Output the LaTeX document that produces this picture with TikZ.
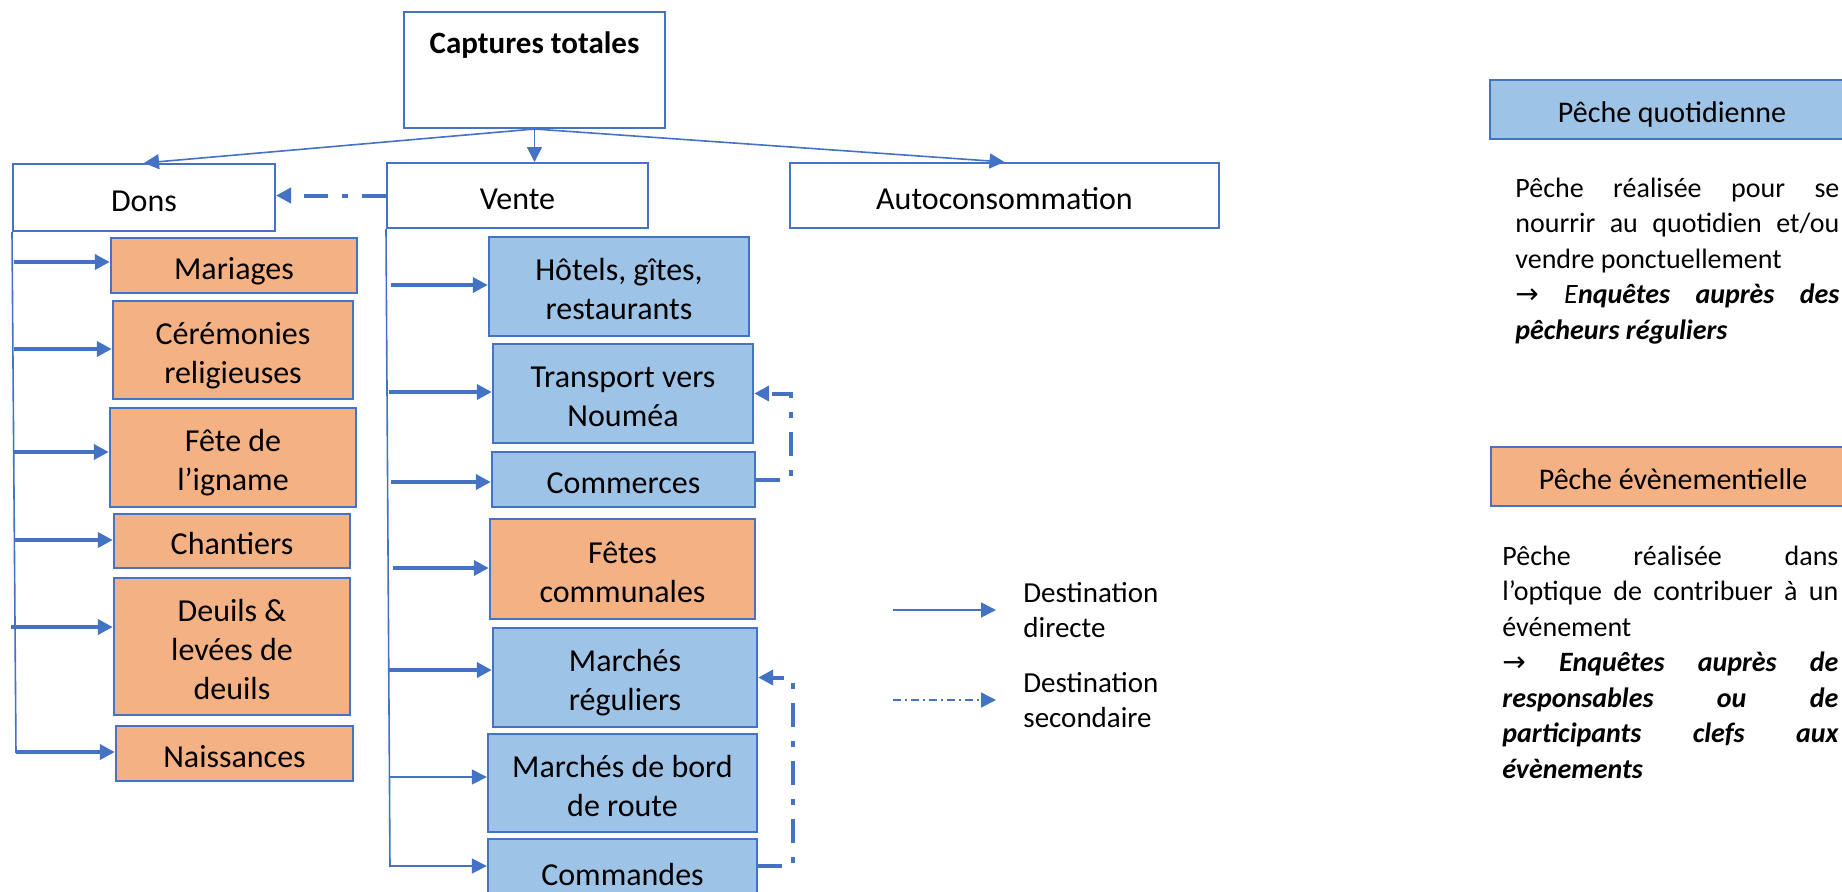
\documentclass[tikz,border=0pt]{standalone}
\usepackage{fontspec}
\setmainfont{Carlito}
\newfontfamily\symfont{DejaVu Sans}
\usetikzlibrary{arrows.meta,calc}
\definecolor{bl}{HTML}{4472C4}
\definecolor{lb}{HTML}{9DC3E6}
\definecolor{orf}{HTML}{F4B183}
\newcommand\topstr{\rule{0pt}{16.5pt}}
\newcommand\botstr{\rule[-3pt]{0pt}{3pt}}
\begin{document}
\begin{tikzpicture}[x=0.5pt,y=-0.5pt,
  boxstrut/.style 2 args={execute at begin node={\rule{0pt}{#1}}, execute at end node={\rule[-#2]{0pt}{#2}}},
  wbox/.style={draw=bl, line width=1pt, fill=white, inner sep=0pt, align=center, font=\fontsize{16}{19.5}\selectfont, boxstrut={16.5pt}{3pt}},
  obox/.style={wbox, fill=orf, line width=1.2pt},
  bbox/.style={wbox, fill=lb, line width=1.2pt},
  multi/.style={boxstrut={0pt}{0pt}},
  tbox/.style={draw=bl, line width=1pt, inner sep=0pt, font=\fontsize{15}{18}\selectfont, minimum width=182pt, minimum height=29.5pt, boxstrut={15pt}{2.5pt}},
  thin/.style={draw=bl, line width=0.8pt},
  thinarrow/.style={thin, -{Triangle[length=7.5pt,width=7.5pt]}},
  thickarrow/.style={draw=bl, line width=2pt, -{Triangle[length=7.5pt,width=7.5pt]}},
  secarrow/.style={draw=bl, line width=2pt, dash pattern=on 12pt off 7pt on 3pt off 7pt, -{Triangle[length=7.5pt,width=7.5pt]}},
  legsec/.style={draw=bl, line width=0.8pt, dash pattern=on 4pt off 2pt on 1pt off 2pt, -{Triangle[length=7.5pt,width=7.5pt]}},
  para/.style={inner sep=0pt, align=justify, font=\fontsize{14}{17.75}\selectfont},
  legtxt/.style={inner sep=0pt, align=left, text width=90pt, font=\fontsize{14.5}{17.5}\selectfont}
]
\clip (0,0) rectangle (1842,891);
\fill[white] (0,0) rectangle (1842,891);

% top level
\node[wbox, minimum width=130.5pt, minimum height=58pt, boxstrut={0pt}{0pt}] (cap) at (534.5,70) {};
\node[inner sep=0pt, font=\fontsize{15.5}{19}\selectfont\bfseries] (captxt) at (534.5,45) {Captures totales};
\node[wbox, minimum width=131pt, minimum height=33.5pt] (dons) at (144,197.5) {Dons};
\node[wbox, minimum width=130.5pt, minimum height=32.5pt] (vente) at (517.5,195.5) {Vente};
\node[wbox, minimum width=214.5pt, minimum height=32.5pt] (auto) at (1004.5,195.5) {Autoconsommation};

\draw[thinarrow] (cap.south) -- (dons.north);
\draw[thinarrow] (cap.south) -- (cap.south |- vente.north);
\draw[thinarrow] (cap.south) -- (auto.north);
\draw[secarrow] (vente.west) -- (vente.west -| dons.east);

% Dons children
\node[obox, minimum width=123pt, minimum height=27.5pt] (mar) at (234,265.5) {Mariages};
\node[obox, multi, minimum width=120pt, minimum height=49pt] (cer) at (233,350) {\topstr Cérémonies\\religieuses\botstr};
\node[obox, multi, minimum width=123pt, minimum height=49.5pt] (fet) at (233,457.5) {\topstr Fête de\\l’igname\botstr};
\node[obox, minimum width=118pt, minimum height=27pt] (cha) at (232,541) {Chantiers};
\node[obox, multi, minimum width=118pt, minimum height=68.5pt] (deu) at (232,646.5) {\topstr Deuils \&\\levées de\\deuils\botstr};
\node[obox, minimum width=118.5pt, minimum height=27.5pt] (nai) at (234.5,753.5) {Naissances};

\coordinate (dbot) at (16,753);
\draw[thin] (dons.south west) -- (dbot);
\coordinate (d1) at (14,262);
\coordinate (d2) at (14,349);
\coordinate (d3) at (14,452);
\coordinate (d4) at (15,540);
\coordinate (d5) at (11,627);
\coordinate (d6) at (16,752);
\draw[thickarrow] (d1) -- (d1 -| mar.west);
\draw[thickarrow] (d2) -- (d2 -| cer.west);
\draw[thickarrow] (d3) -- (d3 -| fet.west);
\draw[thickarrow] (d4) -- (d4 -| cha.west);
\draw[thickarrow] (d5) -- (d5 -| deu.west);
\draw[thickarrow] (d6) -- (d6 -| nai.west);

% Vente children
\node[bbox, multi, minimum width=130pt, minimum height=49.5pt] (hot) at (619,286.5) {\topstr Hôtels, gîtes,\\restaurants\botstr};
\node[bbox, multi, minimum width=130pt, minimum height=49.5pt] (tra) at (623,393.5) {\topstr Transport vers\\Nouméa\botstr};
\node[bbox, minimum width=131.5pt, minimum height=27.5pt] (com) at (623.5,479.5) {Commerces};
\node[obox, multi, minimum width=132.5pt, minimum height=50pt] (fco) at (622.5,569) {\topstr Fêtes\\communales\botstr};
\node[bbox, multi, minimum width=132pt, minimum height=49.5pt] (mre) at (625,677.5) {\topstr Marchés\\réguliers\botstr};
\node[bbox, multi, minimum width=134.5pt, minimum height=49pt] (mbr) at (622.5,783) {\topstr Marchés de bord\\de route\botstr};
\node[bbox, minimum width=134.5pt, minimum height=33pt] (cmd) at (622.5,872) {Commandes};

\coordinate (vbot) at (390,867);
\draw[thin] (vente.south west) -- (vbot);
\coordinate (v1) at (391,285);
\coordinate (v2) at (389,392);
\coordinate (v3) at (391,482);
\coordinate (v4) at (393,568);
\coordinate (v5) at (389,670);
\coordinate (v6) at (389,777);
\coordinate (v7) at (389,866);
\draw[thickarrow] (v1) -- (v1 -| hot.west);
\draw[thickarrow] (v2) -- (v2 -| tra.west);
\draw[thickarrow] (v3) -- (v3 -| com.west);
\draw[thickarrow] (v4) -- (v4 -| fco.west);
\draw[thickarrow] (v5) -- (v5 -| mre.west);
\draw[thinarrow] (v6) -- (v6 -| mbr.west);
\draw[thinarrow] (v7) -- (v7 -| cmd.west);

% secondary destinations
\coordinate (c1) at (791,393.5);
\draw[secarrow] (com.east) -| (c1) -- (tra.east);
\coordinate (c2) at (793,677.5);
\draw[secarrow] ([yshift=3pt]cmd.east) -| (c2) -- (mre.east);

% legend
\coordinate (la1) at (893,610);
\coordinate (la2) at (996,610);
\coordinate (lb1) at (893,700);
\coordinate (lb2) at (996,700);
\draw[thinarrow] (la1) -- (la2);
\draw[legsec] (lb1) -- (lb2);
\node[legtxt, anchor=base west] (leg1) at (1023,602) {Destination\\directe};
\node[legtxt, anchor=base west] (leg2) at (1023,692) {Destination\\secondaire};

% right panel
\node[tbox, fill=lb] (pq) at (1672,109.5) {Pêche quotidienne};
\node[tbox, fill=orf] (pe) at (1673,476.5) {Pêche évènementielle};

\node[para, text width=162pt, anchor=base west] (t1) at (1515,197) {\parindent=0pt
Pêche réalisée pour se\linebreak nourrir au quotidien et/ou\linebreak vendre ponctuellement\par
{\symfont →}\ \textit{E}\textbf{\textit{nquêtes auprès des\linebreak pêcheurs réguliers}}};

\node[para, text width=168pt, anchor=base west] (t2) at (1502,565) {\parindent=0pt
Pêche réalisée dans\linebreak l’optique de contribuer à un\linebreak événement\par
{\symfont →}\ \textbf{\textit{Enquêtes auprès de\linebreak responsables ou de\linebreak participants clefs aux\linebreak évènements}}};
\end{tikzpicture}
\end{document}
